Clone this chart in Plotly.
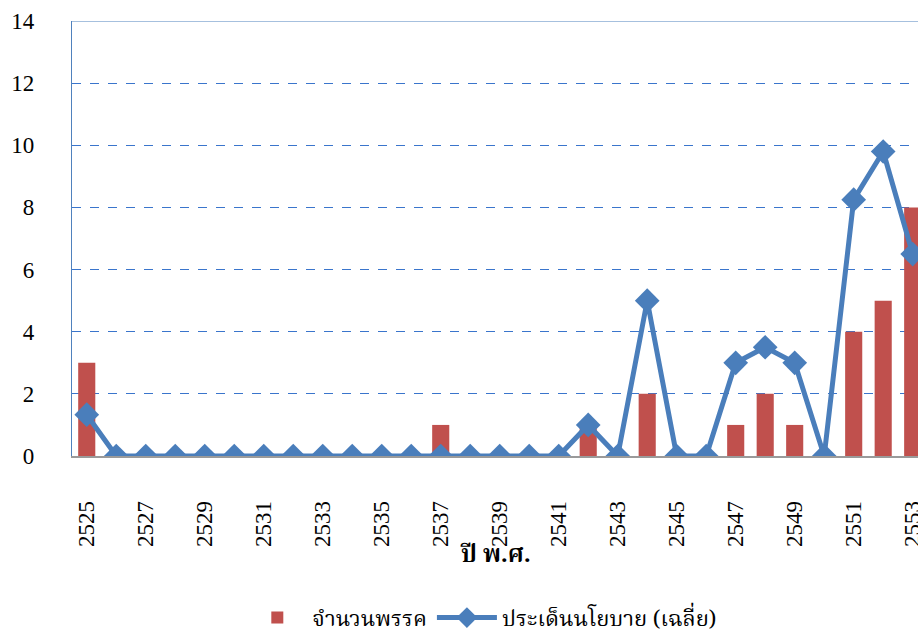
import plotly.graph_objects as go

years = [str(y) for y in range(2525, 2554)]
parties = [3, 0, 0, 0, 0, 0, 0, 0, 0, 0, 0, 0, 1, 0, 0, 0, 0, 1, 0, 2, 0, 0, 1, 2, 1, 0, 4, 5, 8]
policy_avg = [1.33, 0, 0, 0, 0, 0, 0, 0, 0, 0, 0, 0, 0, 0, 0, 0, 0, 1, 0, 5, 0, 0, 3, 3.5, 3, 0, 8.25, 9.8, 6.5]
tick_years = [str(y) for y in range(2525, 2554, 2)]
y_ticks = [0, 2, 4, 6, 8, 10, 12, 14]

serif = "Liberation Serif, Times New Roman, serif"
thai = "Noto Serif Thai, Noto Sans Thai, Liberation Serif, serif"
grid_blue = "#3A75CC"

fig = go.Figure()
fig.add_trace(go.Bar(
    x=years, y=parties, name="จำนวนพรรค",
    marker=dict(color="#C0504D", line=dict(width=0)),
))
fig.add_trace(go.Scatter(
    x=years, y=policy_avg, name="ประเด็นนโยบาย (เฉลี่ย)", mode="lines+markers",
    line=dict(color="#4A7EBB", width=5),
    marker=dict(symbol="diamond", size=19, color="#4A7EBB"),
))

fig.update_layout(
    template="none",
    width=918, height=631,
    margin=dict(l=72, r=0, t=21, b=175, autoexpand=False),
    plot_bgcolor="white", paper_bgcolor="white",
    bargap=0.42,
    showlegend=True,
    legend=dict(orientation="h", x=0.485, xanchor="center", y=-0.372, yanchor="middle",
                font=dict(family=thai, size=22, color="black"), itemwidth=60),
    font=dict(family=serif, color="black"),
    annotations=[dict(text="<b>ปี พ.ศ.</b>", xref="paper", yref="paper", x=0.5, y=-0.228,
                      xanchor="center", yanchor="middle", showarrow=False,
                      font=dict(family=thai, size=24, color="black"))],
)
fig.update_xaxes(
    type="category", categoryorder="array", categoryarray=years,
    range=[-0.5, 28.18], automargin=False,
    tickmode="array", tickvals=tick_years, ticktext=tick_years,
    tickangle=-90, tickfont=dict(family=serif, size=23, color="black"),
    ticks="outside", ticklen=34, tickcolor="rgba(0,0,0,0)",
    showline=True, linecolor="#9a9a9a", linewidth=1.5,
    showgrid=False, zeroline=False, mirror=False,
)
fig.update_yaxes(
    range=[0, 14], tickmode="array", tickvals=y_ticks, automargin=False,
    tickfont=dict(family=serif, size=23, color="black"),
    ticks="", ticklabelstandoff=32,
    showgrid=True, gridcolor=grid_blue, griddash="dash", gridwidth=1.2,
    showline=True, linecolor="#4F81BD", linewidth=1.2, zeroline=False,
)
fig.add_shape(type="line", xref="paper", yref="y", x0=0, x1=1, y0=14, y1=14,
              line=dict(color="#4F81BD", width=1.2))

fig.write_html(
    "out.html",
    config={"displayModeBar": False},
    post_script="document.body.style.margin='0';document.body.style.overflow='hidden';",
)
